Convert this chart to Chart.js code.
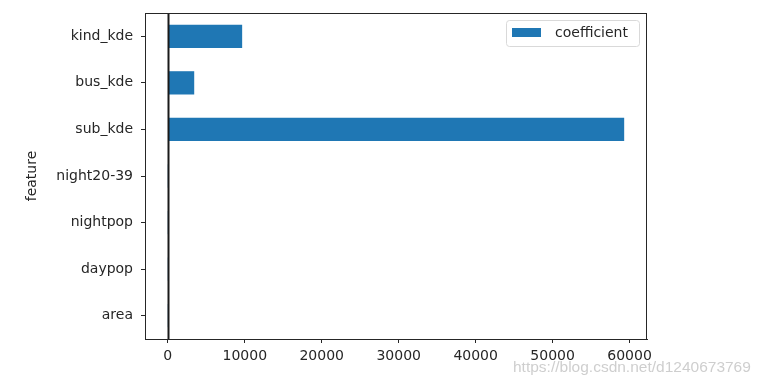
<!DOCTYPE html>
<html>
<head>
<meta charset="utf-8">
<script src="https://cdn.jsdelivr.net/npm/chart.js@4"></script>
<style>
  html, body { margin: 0; padding: 0; background: #fff; }
  #wrap { width: 767px; height: 386px; position: relative; }
</style>
</head>
<body>
<div id="wrap"><canvas id="chart"></canvas></div>
<script>
// dataframe order (pandas draws the first row at the bottom)
const features = ["area", "daypop", "nightpop", "night20-39", "sub_kde", "bus_kde", "kind_kde"];
const coefficient = [0.4, 0.9, 0.3, 0.6, 59300, 3430, 9660];
const xTicks = [0, 10000, 20000, 30000, 40000, 50000, 60000];
const xMin = -2965, xMax = 62265;
const watermark = "https://blog.csdn.net/d1240673769";

const FONT = "'DejaVu Sans', sans-serif";
const INK = "#262626";

// frame, zero line, legend and watermark
const extras = {
  id: "extras",
  afterDatasetsDraw(chart) {
    const { ctx, chartArea: a, scales } = chart;
    ctx.save();
    // axvline at 0
    const x0 = Math.round(scales.x.getPixelForValue(0)) + 0.5;
    ctx.strokeStyle = "#1a1a1a";
    ctx.lineWidth = 2;
    ctx.beginPath();
    ctx.moveTo(x0, a.top);
    ctx.lineTo(x0, a.bottom);
    ctx.stroke();
    // box
    ctx.strokeStyle = INK;
    ctx.lineWidth = 1;
    ctx.strokeRect(a.left + 0.5, a.top + 0.5, a.right - a.left - 1, a.bottom - a.top);
    // legend
    const ds = chart.data.datasets[0];
    ctx.fillStyle = "rgba(255,255,255,0.8)";
    ctx.strokeStyle = "#d9d9d9";
    ctx.beginPath();
    ctx.roundRect(506.5, 20.5, 133, 26, 3);
    ctx.fill();
    ctx.stroke();
    ctx.fillStyle = ds.backgroundColor;
    ctx.fillRect(512, 28, 29, 9);
    ctx.fillStyle = INK;
    ctx.font = "14px " + FONT;
    ctx.textBaseline = "middle";
    ctx.fillText(ds.label, 555, 33.5);
    // watermark
    ctx.fillStyle = "rgba(190,190,190,0.75)";
    ctx.font = "15.5px 'Liberation Sans', Arial, sans-serif";
    ctx.textBaseline = "middle";
    ctx.fillText(watermark, 513, 368);
    ctx.restore();
  }
};

new Chart(document.getElementById("chart"), {
  type: "bar",
  data: {
    labels: features,
    datasets: [{
      label: "coefficient",
      data: coefficient,
      backgroundColor: "#1f77b4",
      borderWidth: 0,
      barPercentage: 0.5,
      categoryPercentage: 1.0
    }]
  },
  options: {
    indexAxis: "y",
    responsive: true,
    maintainAspectRatio: false,
    animation: false,
    layout: { padding: { top: 13, right: 120, left: 0, bottom: 0 } },
    plugins: {
      legend: { display: false },
      tooltip: { enabled: false }
    },
    scales: {
      x: {
        type: "linear",
        min: xMin,
        max: xMax,
        grid: { drawOnChartArea: false, drawTicks: true, tickLength: 4, color: INK },
        border: { display: true, color: INK },
        ticks: {
          color: INK, font: { family: FONT, size: 14 }, padding: 5, maxRotation: 0,
          callback: v => String(v)
        },
        afterBuildTicks(scale) { scale.ticks = xTicks.map(v => ({ value: v })); },
        afterFit(scale) { scale.height = 47; }
      },
      y: {
        reverse: true,
        grid: { drawOnChartArea: false, drawTicks: true, tickLength: 4, color: INK, offset: false },
        border: { display: true, color: INK },
        ticks: { color: INK, font: { family: FONT, size: 14 }, padding: 8 },
        title: {
          display: true,
          text: "feature",
          color: INK,
          font: { family: FONT, size: 14 },
          padding: { top: 24, bottom: 0 }
        },
        afterFit(scale) {
          scale.width = 145;
          scale.paddingTop = 0;
          scale.paddingBottom = 0;
        }
      }
    }
  },
  plugins: [extras]
});
</script>
</body>
</html>
